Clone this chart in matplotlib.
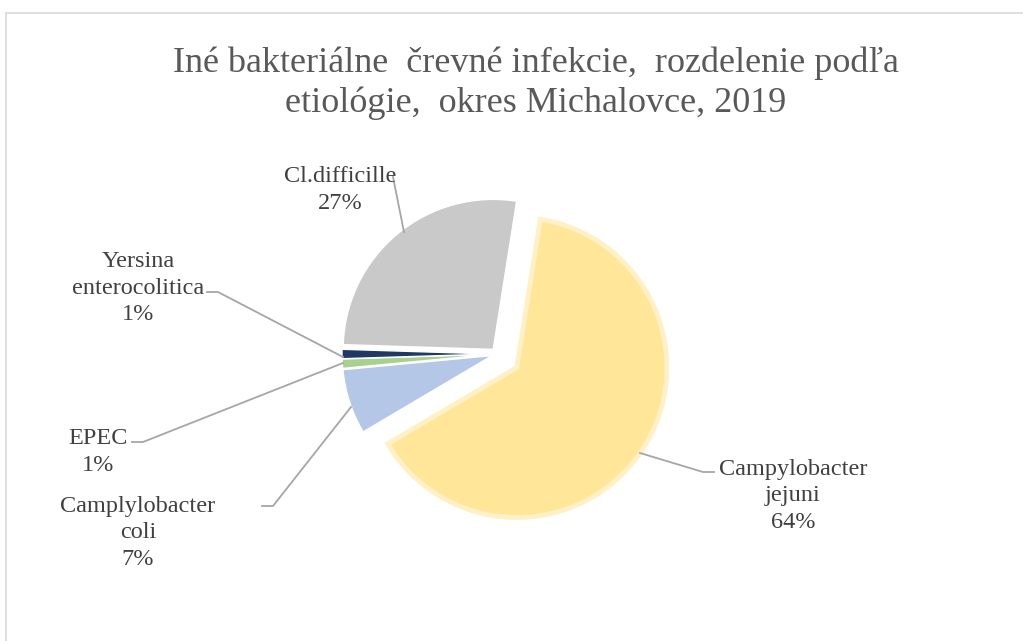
import matplotlib
matplotlib.use('Agg')
import matplotlib.pyplot as plt

W, H = 1023, 641

# ── DATA ──────────────────────────────────────────────────────────────────────
categories = ['Campylobacter\njejuni', 'Camplylobacter\ncoli', 'EPEC',
              'Yersina\nenterocolitica', 'Cl.difficille']
shares = [64, 7, 1, 1, 27]          # %
colors = ['#FFE699', '#B4C7E7', '#A9D18E', '#203864', '#C9C9C9']
explode = [24, 5, 5, 5, 6]          # px offset of each wedge

# label block centres + leader lines (pixel coords, y from top)
label_xy = [(793, 496), (138, 533), (98, 452), (138, 288), (340, 190)]
leaders = [
    [(640, 453), (703, 472), (714, 472)],
    [(351, 407), (273, 506), (262, 506)],
    [(343, 363), (143, 442), (132, 442)],
    [(343, 357), (218, 292), (207, 292)],
    [(404, 232), (393, 177)],
]

TITLE = 'Iné bakteriálne  črevné infekcie,  rozdelenie podľa\netiológie,  okres Michalovce, 2019'
SERIF = ['Liberation Serif', 'DejaVu Serif']

def Y(y):
    return H - y

fig = plt.figure(figsize=(W / 100, H / 100), dpi=100)
ax = fig.add_axes([0, 0, 1, 1])

wedges, _ = ax.pie(shares, explode=explode, colors=colors, startangle=81,
                   counterclock=False, center=(497, Y(354)), radius=150,
                   wedgeprops=dict(edgecolor='white', linewidth=1))
wedges[0].set_edgecolor('#FFF0C6')
wedges[0].set_linewidth(3.5)

ax.set_xlim(0, W)
ax.set_ylim(0, H)
ax.set_aspect('equal')
ax.axis('off')

# chart border (top + left visible)
ax.plot([6, W + 5], [Y(13), Y(13)], color='#D9D9D9', lw=1.2)
ax.plot([6, 6], [Y(13), -5], color='#D9D9D9', lw=1.2)

for name, pct, (lx, ly), pts in zip(categories, shares, label_xy, leaders):
    ax.text(lx, Y(ly), f'{name}\n{pct}%', ha='center', va='center',
            multialignment='center', fontsize=17.5, family=SERIF,
            color='#404040', linespacing=1.36)
    ax.plot([p[0] for p in pts], [Y(p[1]) for p in pts], color='#A6A6A6', lw=1.3)

ax.text(536, Y(83), TITLE, ha='center', va='center', multialignment='center',
        fontsize=26, family=SERIF, color='#595959', linespacing=1.25)

plt.savefig('out.png', dpi=100)
